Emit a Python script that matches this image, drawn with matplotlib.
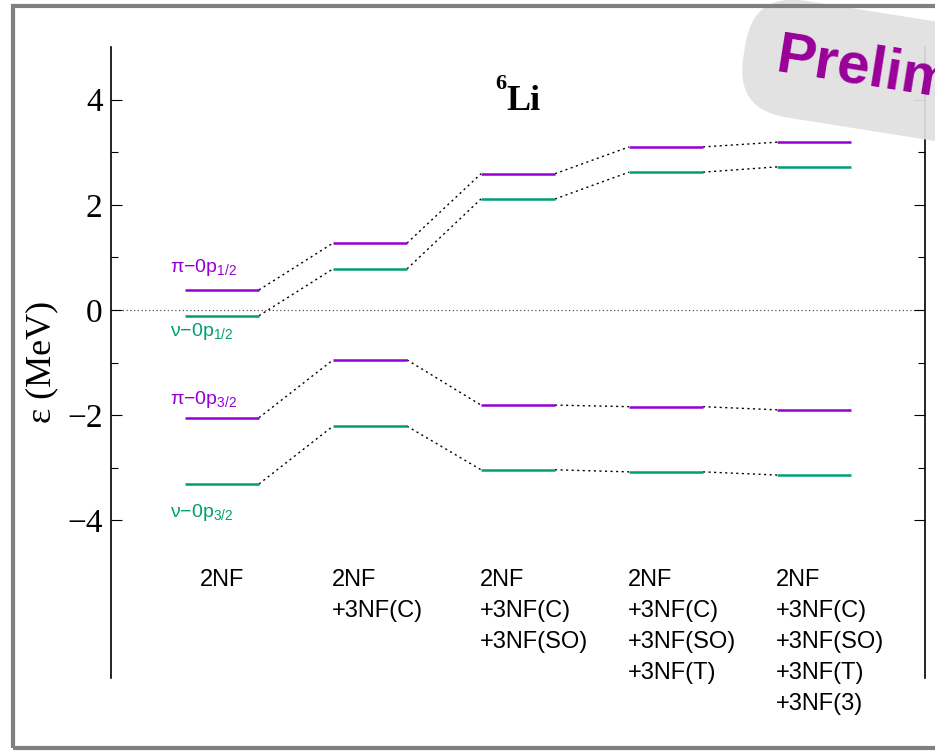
import matplotlib
matplotlib.use("Agg")
import matplotlib.pyplot as plt
from matplotlib.patches import Rectangle
import numpy as np

plt.rcParams['mathtext.fontset'] = 'custom'
plt.rcParams['mathtext.rm'] = 'Liberation Sans'
plt.rcParams['mathtext.it'] = 'Liberation Sans:italic'

categories = ["2NF",
              "2NF\n+3NF(C)",
              "2NF\n+3NF(C)\n+3NF(SO)",
              "2NF\n+3NF(C)\n+3NF(SO)\n+3NF(T)",
              "2NF\n+3NF(C)\n+3NF(SO)\n+3NF(T)\n+3NF(3)"]
pi_p12 = [0.38, 1.27, 2.59, 3.10, 3.19]
nu_p12 = [-0.11, 0.78, 2.11, 2.62, 2.72]
pi_p32 = [-2.05, -0.95, -1.81, -1.84, -1.90]
nu_p32 = [-3.31, -2.21, -3.04, -3.08, -3.14]
level_names = [r"π−0p$_{\mathregular{1/2}}$", r"ν−0p$_{\mathregular{1/2}}$",
               r"π−0p$_{\mathregular{3/2}}$", r"ν−0p$_{\mathregular{3/2}}$"]

purple = "#9400D3"
green = "#009E73"

fig = plt.figure(figsize=(9.35, 7.51), dpi=100)
ax = fig.add_axes([111/935, 1-678/751, (925-111)/935, (678-47)/751])
ax.set_xlim(0.25, 5.75)
ax.set_ylim(-7, 5)

x = np.arange(1, 6)
hw = 0.25
series = [(pi_p12, purple), (nu_p12, green), (pi_p32, purple), (nu_p32, green)]
for vals, col in series:
    for i in range(len(x)):
        ax.plot([x[i]-hw, x[i]+hw], [vals[i], vals[i]], color=col, lw=1.8,
                solid_capstyle='butt', zorder=3)
        if i < len(x)-1:
            ax.plot([x[i]+hw, x[i+1]-hw], [vals[i], vals[i+1]], color='black',
                    lw=1.0, ls=(0, (1.5, 2.5)), zorder=2)

ax.axhline(0, color='#555555', lw=0.9, ls=(0, (1, 2)), zorder=1)

# level labels
lab_kw = dict(fontsize=14, family='Liberation Sans', va='center', ha='left')
ax.text(0.65, pi_p12[0] + 0.42, level_names[0], color=purple, **lab_kw)
ax.text(0.65, nu_p12[0] - 0.30, level_names[1], color=green, **lab_kw)
ax.text(0.65, pi_p32[0] + 0.34, level_names[2], color=purple, **lab_kw)
ax.text(0.65, nu_p32[0] - 0.55, level_names[3], color=green, **lab_kw)

# category labels
label_x = [0.85, 1.74, 2.74, 3.74, 4.74]
for lx, cat in zip(label_x, categories):
    ax.text(lx, -4.93, cat, fontsize=17, family='Liberation Sans', ha='left',
            va='top', linespacing=1.52)

# spines and ticks
for s in ['top', 'bottom']:
    ax.spines[s].set_visible(False)
for s in ['left', 'right']:
    ax.spines[s].set_linewidth(1.2)
ax.set_xticks([])
ax.set_yticks([-4, -2, 0, 2, 4])
ax.set_yticks([-3, -1, 1, 3], minor=True)
ax.set_yticklabels(["−4", "−2", "0", "2", "4"])
ax.tick_params(axis='y', which='both', direction='in', left=True, right=True,
               labelsize=24, width=0.8, pad=6)
ax.tick_params(axis='y', which='major', length=8)
ax.tick_params(axis='y', which='minor', length=5)
for lab in ax.get_yticklabels():
    lab.set_family('Liberation Serif')

fig.text(42/935, 1-362/751, "ε (MeV)", rotation=90, fontsize=26,
         family='Liberation Serif', ha='center', va='center')

# title
fig.text(506/935, 1-101/751, "Li", fontsize=26, family='Liberation Serif',
         weight='bold', ha='left', va='center')
fig.text(506/935, 1-84/751, "6", fontsize=16, family='Liberation Serif',
         weight='bold', ha='right', va='center')

# watermark
fig.text(776/935, 1-56/751, "Preliminary", fontsize=42, family='Liberation Sans',
         weight='bold', color='#990099', rotation=-9, rotation_mode='anchor',
         ha='left', va='center', zorder=10,
         bbox=dict(boxstyle='round,pad=0.55,rounding_size=0.9', fc='#e0e0e0',
                   ec='none', alpha=0.93))

# slide frame
fig.patches.append(Rectangle((13/935, 3/751), 1.0, 1-9/751, transform=fig.transFigure,
                             fill=False, ec='#808080', lw=3, zorder=20))

fig.savefig("out.png", dpi=100)
